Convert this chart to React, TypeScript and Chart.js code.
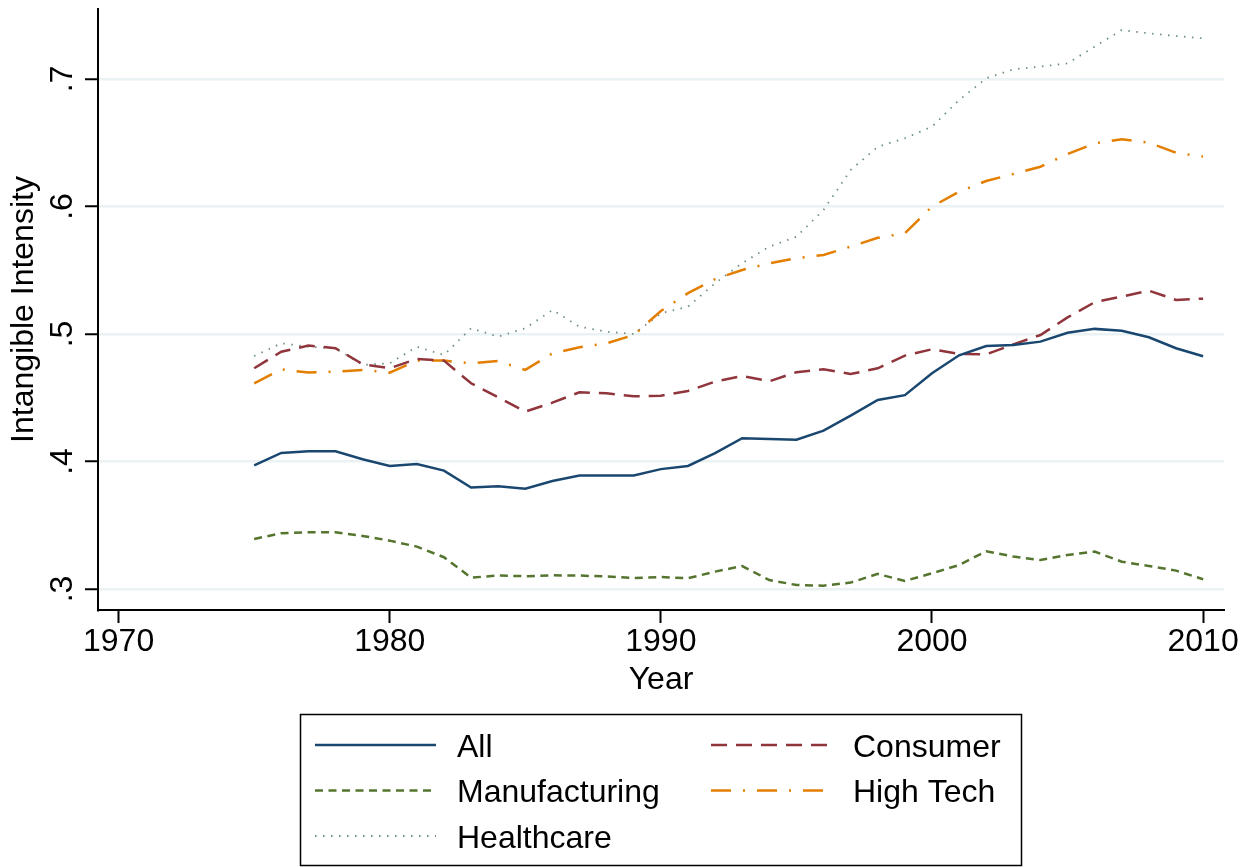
import { useEffect, useRef } from "react"
import { Chart, registerables } from "chart.js"

Chart.register(...registerables)

const years = [
  1975, 1976, 1977, 1978, 1979, 1980, 1981, 1982, 1983, 1984, 1985, 1986,
  1987, 1988, 1989, 1990, 1991, 1992, 1993, 1994, 1995, 1996, 1997, 1998,
  1999, 2000, 2001, 2002, 2003, 2004, 2005, 2006, 2007, 2008, 2009, 2010,
]

const allFirms = [
  0.397, 0.4067, 0.408, 0.408, 0.4017, 0.3965, 0.398, 0.3928, 0.3795, 0.3805, 0.3787, 0.3847,
  0.3889, 0.3889, 0.389, 0.394, 0.3965, 0.4066, 0.4182, 0.4176, 0.417, 0.4242, 0.436, 0.4482,
  0.452, 0.4692, 0.4833, 0.4906, 0.4914, 0.494, 0.501, 0.504, 0.5026, 0.4974, 0.4888, 0.4825,
]

const consumer = [
  0.4731, 0.4861, 0.4909, 0.4888, 0.4763, 0.4731, 0.4804, 0.4791, 0.4613, 0.4503, 0.4391, 0.4461,
  0.4543, 0.4535, 0.4511, 0.4516, 0.4553, 0.4626, 0.467, 0.4629, 0.47, 0.4723, 0.4686, 0.4731,
  0.483, 0.488, 0.4843, 0.484, 0.4919, 0.4992, 0.513, 0.5249, 0.5293, 0.534, 0.5267, 0.5277,
]

const manufacturing = [
  0.3392, 0.3437, 0.3445, 0.3445, 0.3416, 0.3379, 0.3332, 0.3249, 0.3089, 0.3105, 0.31, 0.3107,
  0.3105, 0.3098, 0.3086, 0.3094, 0.3084, 0.3136, 0.318, 0.307, 0.3031, 0.3026, 0.305, 0.3118,
  0.3063, 0.3123, 0.3188, 0.3296, 0.3254, 0.3227, 0.3267, 0.3293, 0.3214, 0.318, 0.3144, 0.3076,
]

const highTech = [
  0.4613, 0.4723, 0.4697, 0.4705, 0.4718, 0.4697, 0.4791, 0.4791, 0.477, 0.4788, 0.4718, 0.4848,
  0.4896, 0.4927, 0.4992, 0.518, 0.532, 0.543, 0.5502, 0.5555, 0.5594, 0.562, 0.5685, 0.5755,
  0.579, 0.5999, 0.6116, 0.62, 0.6255, 0.6312, 0.6412, 0.6495, 0.6527, 0.6501, 0.6422, 0.6391,
]

const healthcare = [
  0.4827, 0.4927, 0.49, 0.4888, 0.4757, 0.477, 0.49, 0.4835, 0.5045, 0.4979, 0.5045, 0.5188,
  0.5057, 0.5018, 0.5, 0.5162, 0.5214, 0.5398, 0.5555, 0.5685, 0.5763, 0.5973, 0.6286, 0.6469,
  0.6535, 0.6626, 0.6835, 0.7005, 0.7076, 0.7097, 0.7123, 0.7254, 0.7384, 0.7358, 0.7337, 0.7319,
]

const xTicks = [1970, 1980, 1990, 2000, 2010]
const yTicks = [0.3, 0.4, 0.5, 0.6, 0.7]
const yTickLabels = [".3", ".4", ".5", ".6", ".7"]

const FONT = "'Liberation Sans', Arial, sans-serif"

// stata s2color-ish series styles
const series = [
  { label: "All", data: allFirms, color: "#1a476f", dash: [] as number[], width: 2.5 },
  { label: "Consumer", data: consumer, color: "#90353b", dash: [16, 9], width: 2.5 },
  { label: "Manufacturing", data: manufacturing, color: "#55752f", dash: [8, 5.5], width: 2.5 },
  { label: "High Tech", data: highTech, color: "#e37e00", dash: [20, 12, 2, 12], width: 2.5 },
  { label: "Healthcare", data: healthcare, color: "#6e8e84", dash: [1.5, 6.5], width: 1.8 },
]

// draws rotated y labels, axis titles and the boxed legend
const stataText = {
  id: "stataText",
  afterDraw(chart: Chart) {
    const { ctx, chartArea, scales } = chart
    const y = scales.y
    ctx.save()
    ctx.fillStyle = "#000"
    ctx.font = `32px ${FONT}`
    ctx.textAlign = "center"
    ctx.textBaseline = "alphabetic"

    yTicks.forEach((v, i) => {
      ctx.save()
      ctx.translate(72, y.getPixelForValue(v))
      ctx.rotate(-Math.PI / 2)
      ctx.fillText(yTickLabels[i], 0, 0)
      ctx.restore()
    })

    ctx.save()
    ctx.translate(33, (chartArea.top + chartArea.bottom) / 2)
    ctx.rotate(-Math.PI / 2)
    ctx.fillText("Intangible Intensity", 0, 0)
    ctx.restore()

    ctx.fillText("Year", (chartArea.left + chartArea.right) / 2, 689)

    // legend
    ctx.strokeStyle = "#000"
    ctx.lineWidth = 1.5
    ctx.setLineDash([])
    ctx.strokeRect(300.5, 714.5, 721, 151)

    const cols = [315, 711]
    const rows = [745, 790.5, 836]
    ctx.textAlign = "left"
    series.forEach((s, i) => {
      const cx = cols[i % 2]
      const cy = rows[Math.floor(i / 2)]
      ctx.beginPath()
      ctx.strokeStyle = s.color
      ctx.lineWidth = s.width
      ctx.setLineDash(s.dash)
      ctx.moveTo(cx, cy)
      ctx.lineTo(cx + 121, cy)
      ctx.stroke()
      ctx.setLineDash([])
      ctx.fillText(s.label, cx + 142, cy + 11.5)
    })
    ctx.restore()
  },
}

export default function App() {
  const chartRef = useRef<HTMLCanvasElement>(null)

  useEffect(() => {
    if (!chartRef.current) return
    const ctx = chartRef.current.getContext("2d")
    if (!ctx) return

    const chart = new Chart(ctx, {
      type: "line",
      data: {
        datasets: series.map((s) => ({
          label: s.label,
          data: years.map((yr, i) => ({ x: yr, y: s.data[i] })),
          borderColor: s.color,
          borderWidth: s.width,
          borderDash: s.dash,
          pointRadius: 0,
          tension: 0,
          fill: false,
        })),
      },
      options: {
        responsive: true,
        maintainAspectRatio: false,
        animation: false,
        layout: { padding: { top: 9, right: 30, left: 0, bottom: 0 } },
        plugins: {
          legend: { display: false },
          tooltip: { enabled: false },
        },
        scales: {
          x: {
            type: "linear",
            min: 1969.24,
            max: 2010.77,
            afterBuildTicks: (s) => {
              s.ticks = xTicks.map((v) => ({ value: v }))
            },
            afterFit: (s) => {
              s.height = 257
            },
            ticks: {
              color: "#000",
              font: { family: FONT, size: 32 },
              padding: 0,
              maxRotation: 0,
              autoSkip: false,
              callback: (v) => String(v),
            },
            grid: {
              drawOnChartArea: false,
              drawTicks: true,
              tickLength: 13,
              tickColor: "#000",
              tickWidth: 2,
            },
            border: { color: "#000", width: 2 },
          },
          y: {
            type: "linear",
            min: 0.2835,
            max: 0.7549,
            afterBuildTicks: (s) => {
              s.ticks = yTicks.map((v) => ({ value: v }))
            },
            afterFit: (s) => {
              s.width = 98
            },
            ticks: { display: false },
            grid: {
              color: "#eaf2f3",
              lineWidth: 2.5,
              drawTicks: true,
              tickLength: 13,
              tickColor: "#000",
              tickWidth: 2,
            },
            border: { color: "#000", width: 2 },
          },
        },
      },
      plugins: [stataText],
    })

    return () => chart.destroy()
  }, [])

  return (
    <div style={{ position: "absolute", left: 0, top: 0, width: 1254, height: 867, background: "#fff" }}>
      <canvas ref={chartRef} />
    </div>
  )
}
